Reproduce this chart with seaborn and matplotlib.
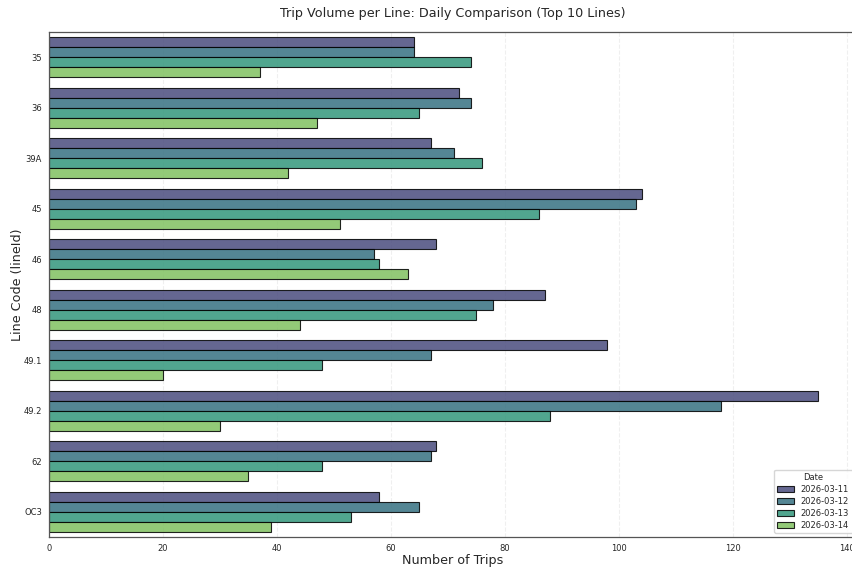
import pandas as pd
import matplotlib
matplotlib.use('Agg')
import matplotlib.pyplot as plt
import seaborn as sns

# Trip counts per line and day
lines = ['35', '36', '39A', '45', '46', '48', '49.1', '49.2', '62', 'OC3']
dates = ['2026-03-11', '2026-03-12', '2026-03-13', '2026-03-14']
trips_0311 = [64, 72, 67, 104, 68, 87, 98, 135, 68, 58]
trips_0312 = [64, 74, 71, 103, 57, 78, 67, 118, 67, 65]
trips_0313 = [74, 65, 76, 86, 58, 75, 48, 88, 48, 53]
trips_0314 = [37, 47, 42, 51, 63, 44, 20, 30, 35, 39]

rows = []
for date, vals in zip(dates, [trips_0311, trips_0312, trips_0313, trips_0314]):
    for line, v in zip(lines, vals):
        rows.append({'lineId': line, 'Date': date, 'trips': v})
df = pd.DataFrame(rows)

sns.set_style('white')
fig = plt.figure(figsize=(8.52, 5.69), dpi=100)
# axes run a bit past the right edge, like the reference
ax = fig.add_axes([0.0575, 0.0562, 0.948, 0.8876])

sns.barplot(data=df, y='lineId', x='trips', hue='Date', order=lines,
            hue_order=dates, palette='viridis', orient='h', ax=ax,
            alpha=0.85, edgecolor='black', linewidth=0.8, width=0.8)

ax.set_xlabel('Number of Trips', fontsize=9.2, labelpad=1)
ax.set_ylabel('Line Code (lineId)', fontsize=9.2, labelpad=0)
ax.tick_params(axis='both', labelsize=6, length=3, width=0.8, pad=2, color='#333333')
ax.xaxis.grid(True, linestyle='--', alpha=0.3)
ax.set_axisbelow(True)
for s in ax.spines.values():
    s.set_color('#555555')
    s.set_linewidth(0.9)

ax.set_title('Trip Volume per Line: Daily Comparison (Top 10 Lines)', fontsize=9.2, pad=11)
leg = ax.legend(title='Date', loc='lower right', fontsize=6, title_fontsize=6,
                labelspacing=0.35)

plt.savefig('out.png', dpi=100)
plt.close()
